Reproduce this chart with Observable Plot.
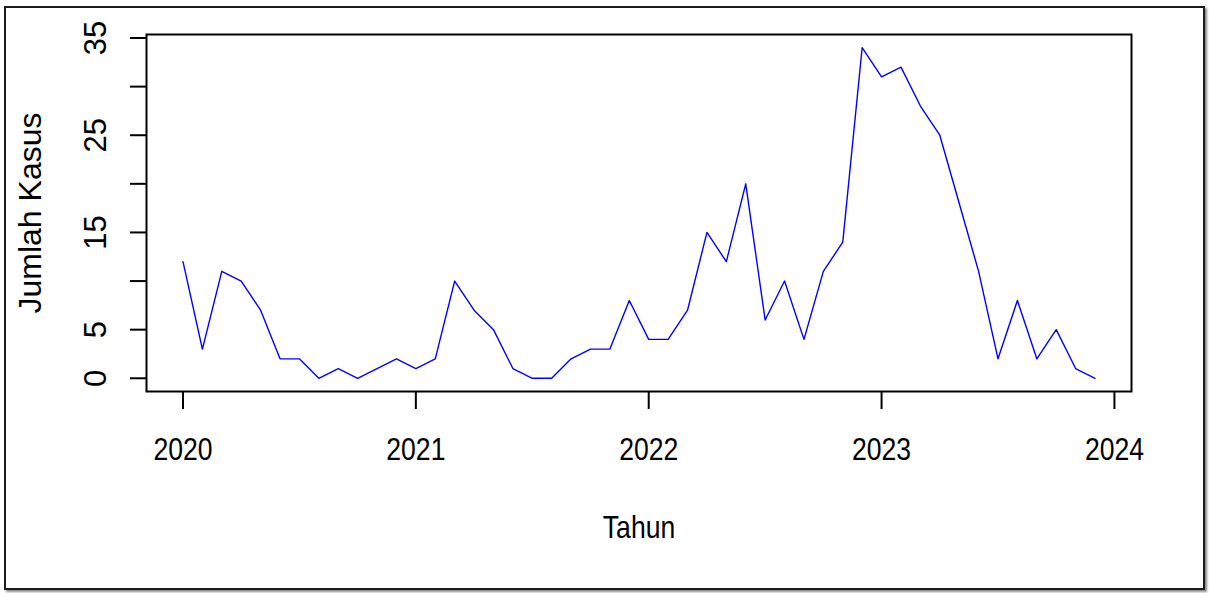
<!DOCTYPE html>
<html><head><meta charset="utf-8">
<script src="https://cdn.jsdelivr.net/npm/d3@7"></script>
<script src="https://cdn.jsdelivr.net/npm/@observablehq/plot@0.6"></script>
<style>
html,body{margin:0;padding:0;background:#fff;}
#wrap{position:relative;width:1209px;height:593px;overflow:hidden;background:#fff;}
#border{position:absolute;left:4px;top:6px;width:1197px;height:580px;border:2px solid #1c1c1c;box-shadow:2px 2px 2px #8a8a8a;}
#chart{position:absolute;left:0;top:0;}
</style></head><body>
<div id="wrap"><div id="border"></div><div id="chart"></div></div>
<script>
const startYear = 2020;
const kasus = [12,3,11,10,7,2,2,0,1,0,1,2,
               1,2,10,7,5,1,0,0,2,3,3,8,
               4,4,7,15,12,20,6,10,4,11,14,34,
               31,32,28,25,18,11,2,8,2,5,1,0];
const xTicks = [2020,2021,2022,2023,2024];
const yTicks = [0,5,10,15,20,25,30,35];
const yLabels = [0,5,15,25,35];
const xTitle = "Tahun";
const yTitle = "Jumlah Kasus";

const data = kasus.map((v,i)=>({t: startYear + i/12, v}));
const font = "'Liberation Sans', Arial, sans-serif";
const plot = Plot.plot({
  width:1209, height:593, marginLeft:146, marginRight:78, marginTop:34, marginBottom:202,
  style:{fontFamily:font, background:"transparent", overflow:"visible", color:"#000"},
  x:{domain:[2019.8433,2024.0733], axis:null},
  y:{domain:[-1.36,35.36], axis:null},
  marks:[
    Plot.line(data,{x:"t",y:"v",stroke:"#0000ff",strokeWidth:1.4}),
    Plot.frame({stroke:"#000",strokeWidth:2}),
    Plot.axisX({ticks:xTicks, tickSize:18, tickFormat:()=>"", strokeWidth:2, label:null}),
    Plot.axisY({ticks:yTicks, tickSize:16, tickFormat:()=>"", strokeWidth:2, label:null}),
    Plot.text(xTicks,{x:d=>d, frameAnchor:"bottom", dy:58, text:d=>String(d), fontSize:32, lineAnchor:"middle"}),
    Plot.text(yLabels,{y:d=>d, frameAnchor:"left", dx:-50, rotate:-90, text:d=>String(d), fontSize:31, lineAnchor:"middle", textAnchor:"middle"}),
    Plot.text([xTitle],{frameAnchor:"bottom", dy:136, fontSize:32, lineAnchor:"middle", textAnchor:"middle"}),
    Plot.text([yTitle],{frameAnchor:"left", dx:-116, rotate:-90, fontSize:32, lineAnchor:"middle", textAnchor:"middle"})
  ]
});
document.getElementById("chart").appendChild(plot);
plot.querySelectorAll("text").forEach(t => {
  if (t.closest("[transform*='rotate']")) return;
  const L = t.getComputedTextLength();
  if (L > 0) { t.setAttribute("textLength", L*0.83); t.setAttribute("lengthAdjust","spacingAndGlyphs"); }
});
</script>
</body></html>
